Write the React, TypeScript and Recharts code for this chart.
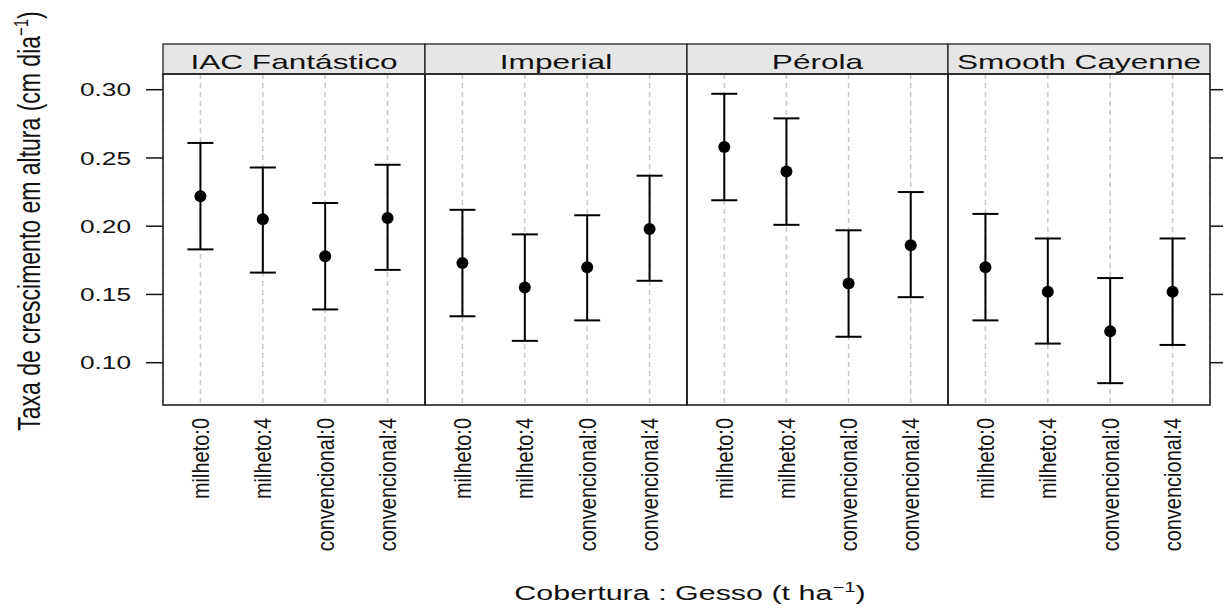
import { ScatterChart, Scatter, XAxis, YAxis, CartesianGrid, ErrorBar } from 'recharts';

const cultivars = ['IAC Fantástico', 'Imperial', 'Pérola', 'Smooth Cayenne'];
const treatments = ['milheto:0', 'milheto:4', 'convencional:0', 'convencional:4'];
const yTicks = [0.1, 0.15, 0.2, 0.25, 0.3];

const iacMean = [0.222, 0.205, 0.178, 0.206];
const iacLow = [0.183, 0.166, 0.139, 0.168];
const iacHigh = [0.261, 0.243, 0.217, 0.245];

const imperialMean = [0.173, 0.155, 0.17, 0.198];
const imperialLow = [0.134, 0.116, 0.131, 0.16];
const imperialHigh = [0.212, 0.194, 0.208, 0.237];

const perolaMean = [0.258, 0.24, 0.158, 0.186];
const perolaLow = [0.219, 0.201, 0.119, 0.148];
const perolaHigh = [0.297, 0.279, 0.197, 0.225];

const smoothMean = [0.17, 0.152, 0.123, 0.152];
const smoothLow = [0.131, 0.114, 0.085, 0.113];
const smoothHigh = [0.209, 0.191, 0.162, 0.191];

const means = [iacMean, imperialMean, perolaMean, smoothMean];
const lows = [iacLow, imperialLow, perolaLow, smoothLow];
const highs = [iacHigh, imperialHigh, perolaHigh, smoothHigh];

// layout (page px)
const PLOT_TOP = 74;
const PLOT_H = 331;
const STRIP_TOP = 44;
const STRIP_H = 30;
const panelLeft = [163, 425, 687, 948];
const panelWidth = [262, 262, 261, 262];
const FONT = '"Liberation Sans", Arial, Helvetica, sans-serif';

const buildData = (i: number) =>
  means[i].map((m, j) => ({
    x: j + 1,
    y: m,
    err: [m - lows[i][j], highs[i][j] - m],
  }));

const XTick = (props: any) => {
  const { x, y, payload } = props;
  return (
    <g transform={`translate(${x},${y + 5}) rotate(-90) scale(1,1.2)`}>
      <text x={0} y={0} dy="0.35em" textAnchor="end" fontSize={20} fontFamily={FONT} fill="#111">
        {treatments[payload.value - 1]}
      </text>
    </g>
  );
};

const YTick = (props: any) => {
  const { x, y, payload } = props;
  return (
    <g transform={`translate(${x},${y}) scale(1.38,1)`}>
      <text x={0} y={0} dy="0.35em" textAnchor="end" fontSize={19} fontFamily={FONT} fill="#111">
        {payload.value.toFixed(2)}
      </text>
    </g>
  );
};

const Dot = (props: any) => <circle cx={props.cx} cy={props.cy} r={6} fill="#000" />;

function Panel({ i }: { i: number }) {
  const isFirst = i === 0;
  const isLast = i === 3;
  const left = isFirst ? 0 : panelLeft[i];
  const width = panelWidth[i] + (isFirst ? panelLeft[0] : 0) + (isLast ? 14 : 0);
  return (
    <div style={{ position: 'absolute', left, top: PLOT_TOP }}>
      <ScatterChart width={width} height={PLOT_H + 200} margin={{ top: 0, right: 0, bottom: 0, left: 0 }}>
        <CartesianGrid horizontal={false} stroke="#c8c8c8" strokeDasharray="5 4" strokeWidth={1.5} />
        <XAxis
          type="number"
          dataKey="x"
          domain={[0.4, 4.6]}
          ticks={[1, 2, 3, 4]}
          interval={0}
          height={200}
          axisLine={false}
          tickLine={false}
          tick={<XTick />}
        />
        {isFirst ? (
          <YAxis
            type="number"
            dataKey="y"
            domain={[0.069, 0.3115]}
            ticks={yTicks}
            width={panelLeft[0]}
            axisLine={false}
            tickSize={17}
            tickMargin={15}
            tickLine={{ stroke: '#111', strokeWidth: 1.5 }}
            tick={<YTick />}
          />
        ) : isLast ? (
          <YAxis
            type="number"
            dataKey="y"
            orientation="right"
            domain={[0.069, 0.3115]}
            ticks={yTicks}
            width={14}
            axisLine={false}
            tickSize={13}
            tickLine={{ stroke: '#111', strokeWidth: 1.5 }}
            tick={() => <g />}
          />
        ) : (
          <YAxis type="number" dataKey="y" domain={[0.069, 0.3115]} hide />
        )}
        <Scatter data={buildData(i)} fill="#000" shape={<Dot />} isAnimationActive={false}>
          <ErrorBar dataKey="err" direction="y" width={13} stroke="#000" strokeWidth={2} />
        </Scatter>
      </ScatterChart>
    </div>
  );
}

export default function App() {
  return (
    <div style={{ position: 'absolute', left: 0, top: 0, width: 1224, height: 612, background: '#fff' }}>
      {cultivars.map((_, i) => (
        <Panel key={i} i={i} />
      ))}
      <svg
        width={1224}
        height={612}
        style={{ position: 'absolute', left: 0, top: 0, pointerEvents: 'none' }}
        fontFamily={FONT}
      >
        {cultivars.map((c, i) => (
          <g key={c}>
            <rect x={panelLeft[i]} y={STRIP_TOP} width={panelWidth[i]} height={STRIP_H} fill="#e6e6e6" stroke="#222" strokeWidth={1.3} />
            <rect x={panelLeft[i]} y={PLOT_TOP} width={panelWidth[i]} height={PLOT_H} fill="none" stroke="#222" strokeWidth={1.6} />
            <g transform={`translate(${panelLeft[i] + panelWidth[i] / 2},69) scale(1.58,1)`}>
              <text x={0} y={0} textAnchor="middle" fontSize={20} fill="#111">
                {c}
              </text>
            </g>
          </g>
        ))}
        <g transform="translate(690,600) scale(1.45,1)">
          <text x={0} y={0} textAnchor="middle" fontSize={21} fill="#111">
            Cobertura : Gesso (t ha
            <tspan fontSize={14} dy={-8}>−1</tspan>
            <tspan fontSize={21} dy={8}>)</tspan>
          </text>
        </g>
        <g transform="translate(40,221) rotate(-90) scale(1,1.35)">
          <text x={0} y={0} textAnchor="middle" fontSize={23} fill="#111">
            Taxa de crescimento em altura (cm dia
            <tspan fontSize={15} dy={-9}>−1</tspan>
            <tspan fontSize={23} dy={9}>)</tspan>
          </text>
        </g>
      </svg>
    </div>
  );
}
